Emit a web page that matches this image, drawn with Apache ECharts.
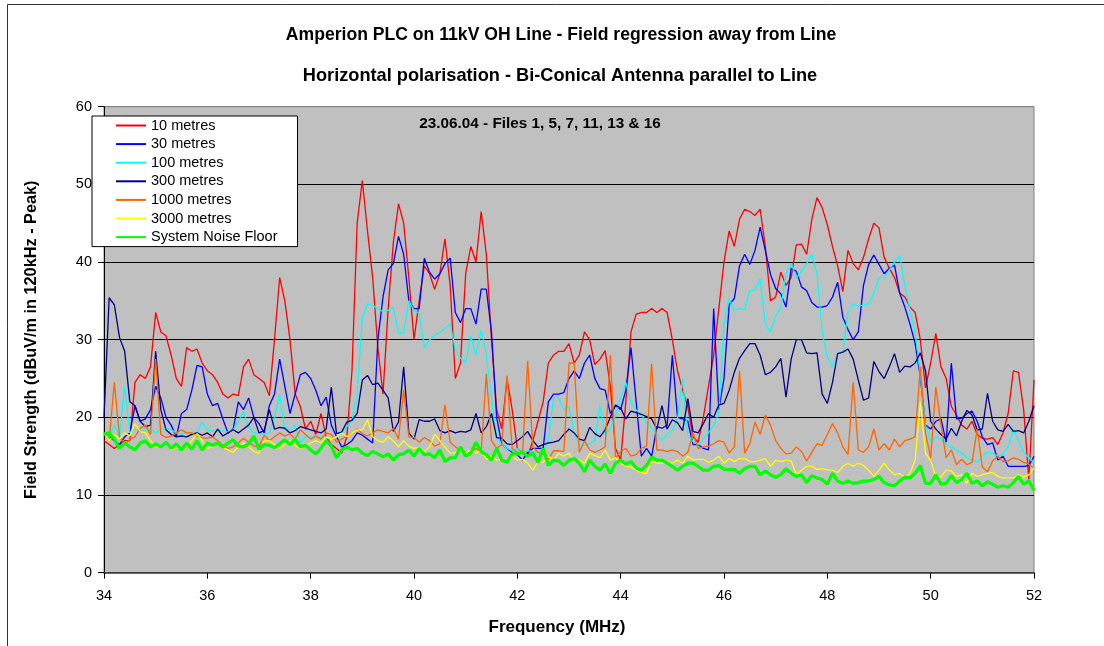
<!DOCTYPE html>
<html>
<head>
<meta charset="utf-8">
<title>Field regression away from Line</title>
<script src="https://cdn.jsdelivr.net/npm/echarts@6/dist/echarts.min.js"></script>
<style>
  html, body { margin: 0; padding: 0; background: #fff; }
  #chart { width: 1104px; height: 646px; }
</style>
</head>
<body>
<div id="chart"></div>
<script>
// sweep grid of the readings (MHz)
const SWEEP_START = 34.0;
const SWEEP_STEP = 0.1;

const TITLE = 'Amperion PLC on 11kV OH Line - Field regression away from Line';
const SUBTITLE = 'Horizontal polarisation - Bi-Conical Antenna parallel to Line';
const NOTE = '23.06.04 - Files 1, 5, 7, 11, 13 & 16';

const SERIES_NAMES = ['10 metres', '30 metres', '100 metres', '300 metres',
  '1000 metres', '3000 metres', 'System Noise Floor'];
const SERIES_COLORS = ['#FF0000', '#0000FF', '#00FFFF', '#000080', '#FF6600', '#FFFF00', '#00FF00'];

const xTicks = [34, 36, 38, 40, 42, 44, 46, 48, 50, 52];
const yTicks = [0, 10, 20, 30, 40, 50, 60];

// dBuV/m readings, one per sweep sample
const m10 = [
  17, 16.5, 16, 16.5, 17, 17, 24.5, 25.5, 25, 26.5, 33.5, 31, 30.5, 28, 25, 24, 29, 28.5, 28.8, 27, 26, 25.5, 24.5, 23, 22.5, 23, 22.8, 26.5, 27.5, 25.5, 25,
  24.5, 22.8, 30, 38, 35, 30, 23, 21.4, 18.5, 19.5, 17.8, 20.5, 17.5, 16.5, 16, 15.4, 17.5, 26, 45, 50.5, 44, 38, 29, 23, 34, 42.5, 47.5, 45, 38, 30,
  35, 39.5, 38.5, 36.5, 38.5, 43, 37, 25, 27, 38.5, 42, 40, 46.5, 41, 30, 21, 18.5, 25, 21, 16, 15.5, 15, 17, 19.5, 22, 27, 28, 28.5, 28.5, 29.5,
  27, 28, 31, 30, 26.8, 27.5, 28.6, 24, 16, 14.5, 22, 31, 33.3, 33.5, 33.5, 34, 33.5, 34, 33.5, 30, 26, 23.5, 21.3, 17.5, 16.8, 20, 24, 28, 34, 40,
  44, 42, 45.5, 46.8, 46.5, 46, 46.8, 42, 35, 35.5, 38.7, 37, 38, 42.2, 42.3, 41, 45.5, 48.3, 47, 44.8, 42, 39.5, 36.2, 41.5, 39.8, 39, 40.6, 43, 45, 44.4,
  40.6, 39.2, 38, 36, 35.5, 34.2, 33.5, 30, 23.8, 27, 30.8, 26.5, 25, 21.4, 20.3, 19, 18.5, 19.5, 17.8, 17.3, 17.2, 17.4, 16.5, 18, 20.5, 26, 25.8, 21, 12, 24.8];

const m30 = [
  18, 17.5, 17, 16.5, 17.5, 18, 21.5, 19.5, 19.8, 21, 24, 22.5, 20, 19, 17.5, 20.5, 21, 23.5, 26.7, 26.5, 23, 21.5, 21.8, 19.8, 18, 18.5, 22, 21, 22.5, 20, 19.2,
  18, 21.5, 23, 27.5, 24, 20.5, 23, 25.5, 25.8, 25, 23.5, 21.5, 22.6, 19, 17.5, 16.2, 16.5, 17, 18, 17.7, 17.2, 16.7, 30, 35.5, 39, 39.8, 43.3, 41, 35, 34,
  34, 40.5, 38.7, 37.8, 38.5, 39.8, 40.5, 33.5, 32.2, 34, 34, 32, 36.5, 36.5, 31, 20, 16.5, 16, 15.5, 15.2, 14.5, 15.5, 16, 16, 16, 22, 23, 23, 23.2, 25,
  26, 25, 27, 28, 25, 23.7, 23.5, 20.5, 21.5, 21, 23.5, 29, 22, 15, 16, 15, 18.8, 18.6, 19, 28, 20, 19.8, 19.5, 16.5, 16.5, 16, 15.8, 34, 21, 25,
  34.5, 35.3, 39.5, 41, 39.7, 41.5, 44.5, 41.5, 38.4, 36.6, 35.9, 34.2, 39.2, 38.8, 36.8, 36.3, 34.8, 34.2, 34.2, 34.4, 35.5, 37.4, 32.9, 31.3, 30, 31, 37, 39.7, 40.9, 39.7,
  38.5, 39.2, 39.6, 36, 34.2, 32, 29.5, 25.2, 19, 18.5, 19.5, 19.8, 16.8, 27, 19.8, 19.9, 20.5, 20.8, 19.5, 17.5, 16.5, 16.7, 14.5, 15, 13.7, 13.7, 13.7, 13.7, 13.8, 15];

const m100 = [
  18, 17.5, 19, 17.5, 24, 18, 18.5, 18.3, 18.4, 18.6, 18, 18.4, 18.6, 18.4, 18, 17.8, 18, 17.9, 18, 19.4, 18.4, 18.2, 18.4, 18.3, 18.1, 18.4, 19.5, 20.7, 18.8, 18, 18,
  17.8, 18, 20, 23, 18.4, 18.5, 19, 16.8, 17.5, 17.5, 17.5, 17.5, 17.4, 17.2, 17.5, 18, 18.8, 19.6, 23, 32.8, 34.6, 34.4, 34, 33.6, 33.8, 34.2, 30.8, 31, 35, 33.8,
  33.4, 29, 30, 30.5, 30.9, 31.5, 32, 28.8, 27.6, 27, 30.5, 28, 31.3, 28, 22.5, 17.5, 16.5, 16, 15.7, 16, 15.5, 15.7, 15.6, 15.5, 15.5, 17, 22.5, 22.5, 21, 21.4,
  18, 16.5, 16.4, 16.6, 17, 21.5, 17.8, 18.5, 20.3, 22.5, 24.5, 21.8, 21, 20.3, 19.4, 18.6, 17.8, 17, 17.9, 18.4, 19.8, 25, 17.5, 16.9, 16.5, 17.3, 18, 19, 20.5, 32,
  35.3, 33.8, 34, 33.9, 36.3, 36.4, 37.8, 32, 31, 33, 34.2, 38.5, 39.8, 38, 38.8, 39.8, 41, 38.5, 31, 27.8, 26.5, 28.2, 28.5, 33.5, 34.6, 34.3, 34.5, 34.6, 36, 38,
  38, 39, 40, 40.8, 37, 33.8, 31, 25.5, 19, 17, 17.5, 17.2, 16.5, 16.2, 15.8, 15.4, 14.8, 14.5, 14.2, 15, 15.5, 15.4, 15, 15.3, 16.2, 18.5, 17, 15.5, 14.8, 14.2];

const m300 = [
  20, 35.4, 34.5, 30.3, 28.5, 22, 21.5, 19.5, 18.8, 19, 28.5, 21, 18.4, 17.8, 17.5, 17.6, 17.5, 17.8, 18, 17.7, 18, 17.5, 18.5, 17.6, 18, 18.4, 18, 18.5, 19, 20, 18,
  18.3, 21, 18.5, 18.7, 18.6, 18, 18.3, 18.8, 18.6, 18.4, 18.2, 18, 18.5, 23.9, 17.9, 18.1, 19.4, 19.6, 20.5, 24.8, 25.4, 24.2, 24.4, 23.5, 22.5, 18.2, 19.4, 26.5, 18, 17.2,
  19.7, 19.5, 19.5, 19.8, 18.3, 18, 18.3, 18, 18.2, 18.1, 18.4, 20.5, 18, 18.8, 20.5, 17.4, 17.3, 16.6, 16.5, 17, 17.5, 18.2, 17, 16.2, 16.5, 16.7, 16.8, 17, 17.8, 18.5,
  18, 17.2, 17, 18.7, 17.9, 17.5, 18.4, 20, 21.6, 21.2, 19.8, 20.8, 20.6, 20.4, 20.1, 19.8, 18.5, 21.5, 18.5, 19.7, 19.3, 18.3, 22.4, 18.2, 18, 19.2, 20.5, 20, 21.6, 21.8,
  23.5, 25.8, 27.6, 28.6, 29.5, 29.5, 28, 25.5, 25.8, 26.5, 27.6, 22.6, 27.5, 30, 30, 28.3, 28.2, 28.3, 23, 21.8, 24.5, 28.2, 28.4, 28.8, 27.5, 24.8, 22.2, 22.5, 27.2, 25.9,
  25, 26.5, 28.2, 25.8, 26.6, 26.5, 27, 28.3, 26, 19.5, 18.5, 17.8, 17.2, 18.6, 17.6, 19.5, 20.9, 20.3, 18.4, 18.5, 23.1, 19.5, 18.4, 18.2, 19.1, 18.2, 18.3, 18, 19.5, 21.5];

const m1000 = [
  18, 17, 24.5, 17.5, 16.5, 17.2, 17.5, 18.6, 19, 17.8, 27.5, 17.8, 17.4, 17.6, 18, 18.4, 18, 18, 17.6, 17.4, 17.3, 17.5, 17, 16.4, 16, 16.2, 16.7, 17.3, 16.8, 16.3, 16.2,
  17.7, 17, 17.5, 18, 17.6, 17.9, 17.2, 18.4, 17.8, 17.2, 17.6, 17.2, 18, 17.8, 16.8, 17.2, 17.6, 18, 18.5, 17.9, 17.6, 18, 18.4, 18.2, 18, 18.6, 17.2, 23.5, 17.5, 17.4,
  16.8, 17.4, 17, 16.3, 16.6, 21.6, 16.8, 16.2, 15.8, 15.5, 15.6, 16, 15.5, 25.6, 17, 16, 16.5, 25.4, 16, 15.5, 15.3, 27.3, 16.2, 15.5, 15.3, 14.6, 15.7, 15.7, 15.6, 27,
  27, 15.5, 17, 15.8, 15.5, 15.8, 16.2, 28, 14.8, 15.6, 16, 15, 15.2, 16, 16.3, 26.9, 15.8, 15.8, 15.6, 15.8, 15.6, 15, 15.5, 18, 16, 16.2, 16.3, 16.6, 17, 16.8,
  15.4, 16.2, 26, 15.4, 16.6, 19.4, 17.8, 20.3, 19, 17, 16, 15.3, 15.4, 16.2, 15.6, 14.4, 15.5, 16.6, 16.4, 17.8, 19.2, 18, 16.2, 15.2, 24.5, 15.8, 15.5, 16.2, 18.5, 15.8,
  16.6, 15.8, 17.2, 16.2, 17, 17.2, 17.5, 26.5, 18, 14.8, 23.9, 19, 14.8, 15.8, 13.9, 14.6, 13.9, 14.2, 18.5, 13.6, 13, 14.4, 15, 14.3, 14.4, 14.8, 14.6, 14.2, 14, 13.4];

const m3000 = [
  18, 17, 17.8, 17.2, 18, 17.6, 19.2, 18.2, 18, 17, 16.2, 16.4, 16.6, 15.8, 16.2, 15.8, 16.2, 17, 17.9, 17, 16, 16.2, 16.6, 16.2, 15.8, 15.5, 16.2, 16.7, 16.2, 15.6, 15.4,
  17, 17, 16.5, 16, 16.5, 17, 16.4, 16, 16.3, 16.7, 17, 16.7, 17.5, 17.2, 17.5, 18, 17.5, 18, 18.4, 18.4, 19.7, 17.5, 17, 16.8, 17.5, 17, 16.2, 17, 16.3, 16,
  16.1, 15.6, 16.2, 17.8, 17, 16.2, 15.4, 15.4, 15.8, 15.4, 15.8, 15.4, 15.8, 14.6, 15, 14.5, 14.6, 14.1, 15, 14.5, 14.6, 14.1, 13.2, 14.3, 14.2, 15, 14.5, 15.4, 15, 15.4,
  14.3, 14.5, 14.1, 15.4, 15.1, 14.8, 15.8, 14.5, 14.8, 14.1, 13.7, 13.6, 13.2, 12.9, 12.8, 14.4, 14.1, 14.1, 14.3, 14.1, 14.5, 14.1, 15, 14.5, 14.6, 14.6, 14.2, 14.5, 15, 14.1,
  14.7, 14.3, 14.7, 14.7, 14.3, 14.3, 14.5, 14.7, 13.7, 14.5, 14.3, 14.5, 14.4, 12.6, 13.2, 13.7, 13.7, 13.3, 13.4, 13.25, 13.2, 12.9, 13.7, 14.1, 13.7, 14.1, 13.8, 13.2, 12.4, 13.2,
  14.1, 13.25, 12.6, 12.8, 12.3, 12.8, 14.5, 22, 15.4, 14.4, 12.4, 12.3, 13.2, 13.1, 12.4, 12.6, 11.5, 12.8, 12.4, 12.6, 12.8, 12.9, 12.4, 12.2, 12.2, 12.2, 12.6, 12.3, 12.6, 13.5];

const noiseFloor = [
  17.8, 18, 17.2, 16, 16.7, 16.2, 15.8, 16.7, 17, 16.2, 16.6, 16.2, 16.8, 16, 16.6, 15.8, 16.7, 15.9, 17, 15.8, 16.7, 16.4, 16.7, 16.2, 16.7, 17.1, 16.3, 16.2, 16.6, 17.6, 15.9,
  16.5, 16.4, 16.1, 16.6, 17.1, 16.5, 17.2, 16.2, 16.4, 15.8, 15.3, 16, 17, 16.3, 14.8, 15.8, 16.2, 15.8, 16, 15.4, 15.1, 15.6, 15.3, 14.9, 15.3, 14.5, 15.2, 15.3, 15.8, 15,
  16, 15.2, 15.3, 14.8, 15.8, 14.3, 14.8, 14.8, 16.2, 15, 15.4, 16.8, 15.6, 15.2, 14.5, 16, 14.5, 14.2, 15.3, 15.3, 15.5, 15, 15.4, 14.2, 16, 13.8, 14.5, 14.4, 13.8, 14.5,
  14.7, 14.1, 13, 14.5, 13.7, 13.2, 14, 12.8, 14.1, 14.5, 14, 14.3, 13.5, 13.2, 13.8, 14.9, 14.5, 14.5, 14.1, 13.7, 13.2, 13.7, 14.1, 14.1, 13.7, 13.2, 13.2, 13.7, 13.8, 13.3,
  13.3, 13.3, 12.8, 13.4, 13.7, 13.7, 12.6, 13.1, 12.6, 12.3, 12.6, 13.4, 12.8, 12.4, 12.6, 11.6, 12.5, 12.2, 12, 11.4, 12.8, 11.8, 11.5, 11.8, 11.5, 11.6, 11.8, 11.8, 12, 12.4,
  11.6, 11.3, 11.2, 11.8, 12.3, 12.2, 12.8, 13.8, 11.5, 11.5, 12.6, 11.4, 11.5, 12.5, 11.6, 12, 12.8, 11.5, 11.8, 11.2, 11.7, 11.4, 11, 11.2, 11, 11.6, 12.4, 11.4, 11.8, 10.6];

const SERIES_VALUES = [m10, m30, m100, m300, m1000, m3000, noiseFloor];

const freq = m10.map((_, i) => +(SWEEP_START + i * SWEEP_STEP).toFixed(2));

const FONT = '"Liberation Sans", Arial, Helvetica, sans-serif';

const chart = echarts.init(document.getElementById('chart'));

const series = SERIES_VALUES.map((vals, k) => ({
  name: SERIES_NAMES[k],
  type: 'line',
  symbol: 'none',
  showSymbol: false,
  clip: true,
  color: SERIES_COLORS[k],
  lineStyle: {
    color: SERIES_COLORS[k],
    width: k === 6 ? 3.2 : 1.3
  },
  data: vals.map((v, i) => [freq[i], v])
}));

chart.setOption({
  animation: false,
  backgroundColor: '#fff',
  textStyle: { fontFamily: FONT },
  graphic: [
    {
      type: 'rect',
      silent: true,
      shape: { x: 7.5, y: 4.5, width: 1120, height: 680 },
      style: { fill: 'none', stroke: '#333', lineWidth: 1 }
    },
    {
      type: 'text', x: 561, y: 35,
      style: { text: TITLE, align: 'center', verticalAlign: 'middle',
        font: 'bold 17.6px ' + FONT, fill: '#000' }
    },
    {
      type: 'text', x: 560, y: 76,
      style: { text: SUBTITLE, align: 'center', verticalAlign: 'middle',
        font: 'bold 18.2px ' + FONT, fill: '#000' }
    },
    {
      type: 'text', x: 540, y: 124, z: 10,
      style: { text: NOTE, align: 'center', verticalAlign: 'middle',
        font: 'bold 15.3px ' + FONT, fill: '#000' }
    }
  ],
  legend: {
    data: SERIES_NAMES,
    orient: 'vertical',
    left: 92,
    top: 116,
    padding: [2, 20, 2, 23],
    itemGap: 3.6,
    itemWidth: 30,
    itemHeight: 14,
    backgroundColor: '#fff',
    borderColor: '#000',
    borderWidth: 1,
    borderRadius: 0,
    itemStyle: { opacity: 0 },
    textStyle: { fontFamily: FONT, fontSize: 14.5, color: '#000', lineHeight: 14 },
    selectedMode: false
  },
  grid: {
    left: 104,
    right: 70,
    top: 106.7,
    bottom: 73.3,
    show: true,
    backgroundColor: '#C0C0C0',
    borderColor: '#808080',
    borderWidth: 1
  },
  xAxis: {
    type: 'value',
    min: xTicks[0],
    max: xTicks[xTicks.length - 1],
    interval: 2,
    name: 'Frequency (MHz)',
    nameLocation: 'middle',
    nameGap: 46,
    nameTextStyle: { fontFamily: FONT, fontSize: 17, fontWeight: 'bold', color: '#000',
      padding: [0, 24, 0, 0] },
    axisLine: { show: true, lineStyle: { color: '#404040', width: 1.5 } },
    axisTick: { show: true, length: 6, lineStyle: { color: '#000' } },
    axisLabel: { fontFamily: FONT, fontSize: 14.5, color: '#000', margin: 16 },
    splitLine: { show: false }
  },
  yAxis: {
    type: 'value',
    min: yTicks[0],
    max: yTicks[yTicks.length - 1],
    interval: 10,
    name: 'Field Strength (dBuV/m in 120kHz - Peak)',
    nameLocation: 'middle',
    nameGap: 64,
    nameTextStyle: { fontFamily: FONT, fontSize: 16.3, fontWeight: 'bold', color: '#000' },
    axisLine: { show: true, lineStyle: { color: '#000', width: 1 } },
    axisTick: { show: true, length: 6, lineStyle: { color: '#000' } },
    axisLabel: { fontFamily: FONT, fontSize: 14.5, color: '#000', margin: 12 },
    splitLine: {
      show: true,
      lineStyle: { color: ['#404040', '#000', '#000', '#000', '#000', '#000', '#808080'], width: 1 }
    }
  },
  series: series
});
</script>
</body>
</html>
